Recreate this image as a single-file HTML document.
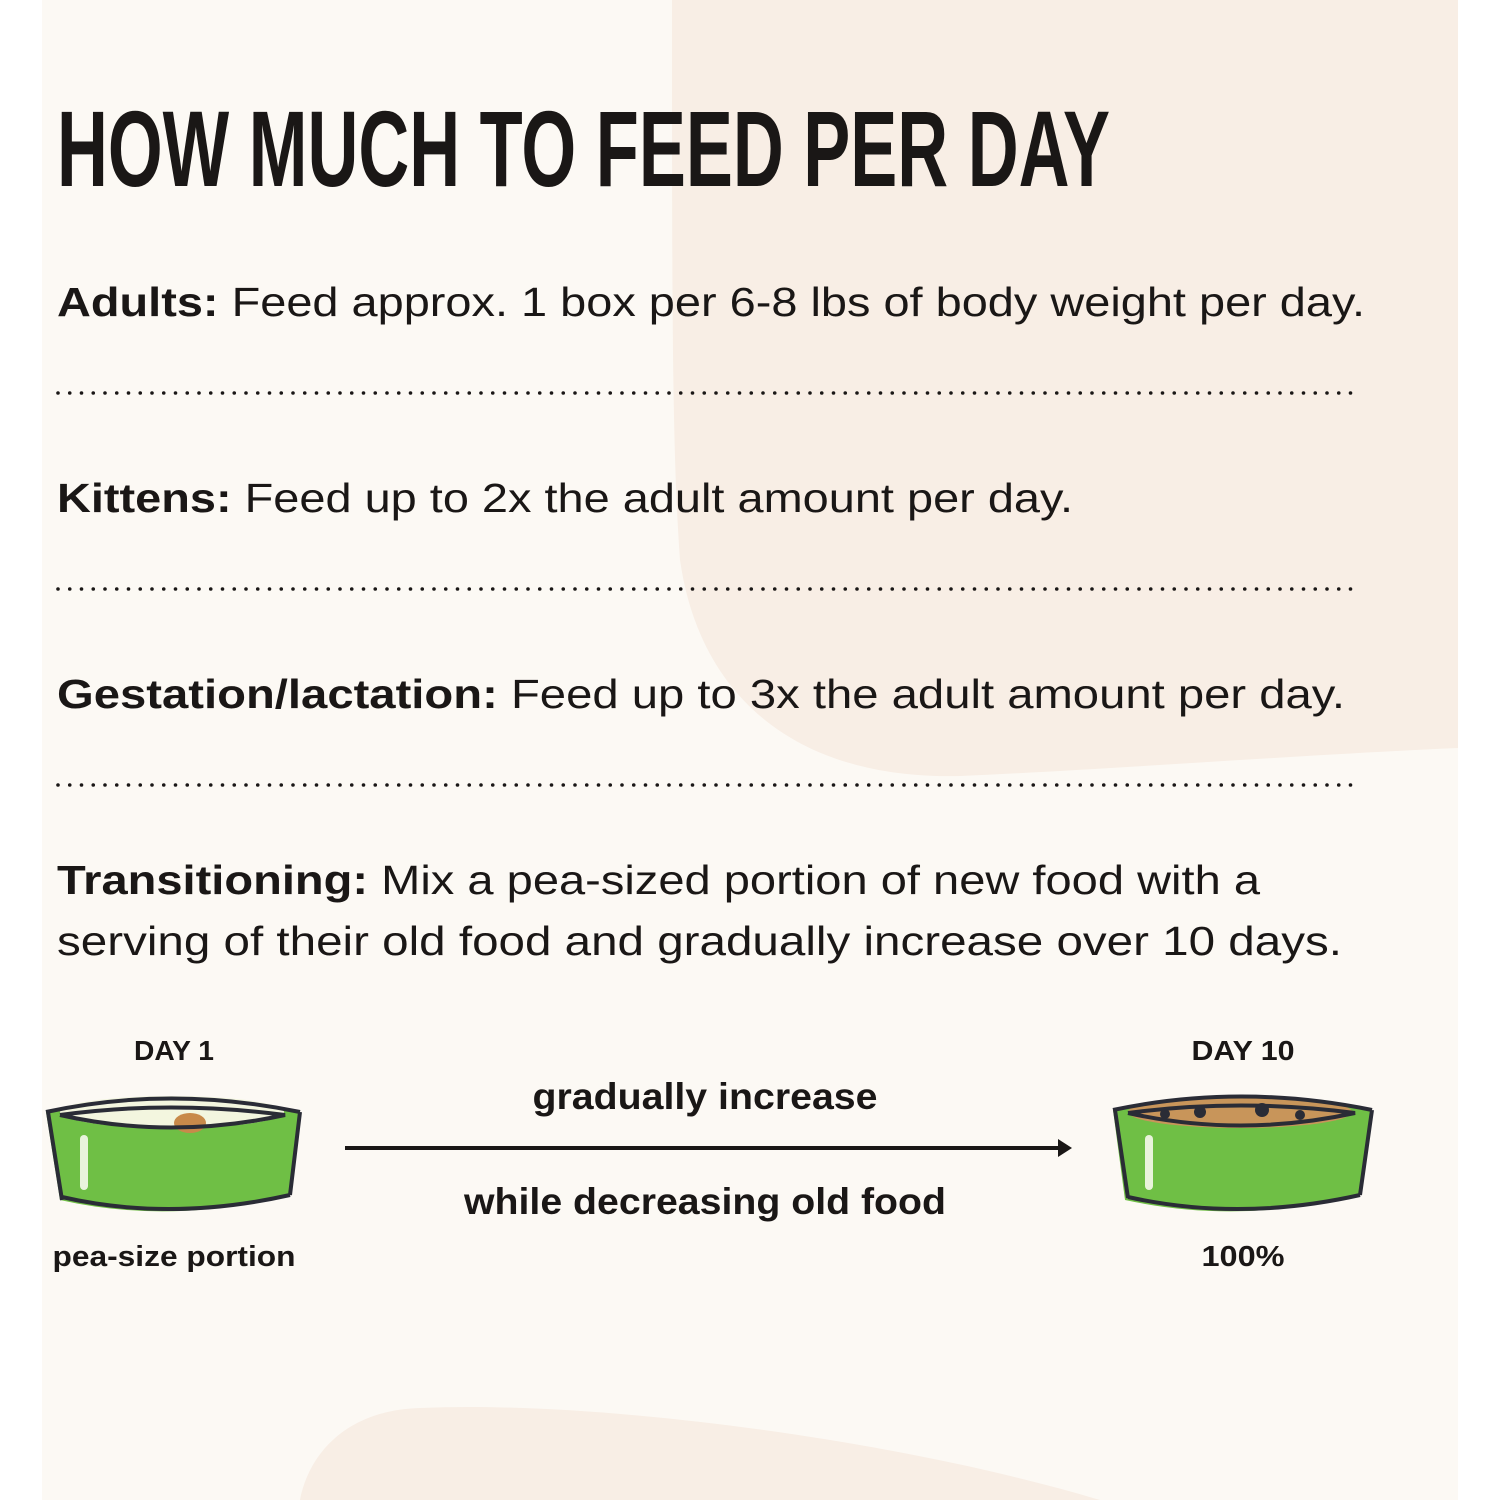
<!DOCTYPE html>
<html><head><style>html,body{margin:0;padding:0;background:#fff;}svg{display:block}</style></head>
<body>
<svg width="1500" height="1500" viewBox="0 0 1500 1500" xmlns="http://www.w3.org/2000/svg" font-family="Liberation Sans, sans-serif" fill="#1a1716">
<rect x="42" y="0" width="1416" height="1500" fill="#fcf9f4"/>
<path d="M672 0 L1458 0 L1458 748 C1300 755 1100 770 960 776 C800 780 700 700 680 560 C672 450 672 300 672 0 Z" fill="#f8eee5"/>
<path d="M300 1500 C310 1450 350 1410 420 1408 C600 1400 900 1440 1100 1500 Z" fill="#f8eee5"/>
<text x="57" y="186" font-size="108" font-weight="bold" textLength="1053" lengthAdjust="spacingAndGlyphs">HOW MUCH TO FEED PER DAY</text>
<g font-size="41">
<text x="57" y="316" textLength="1308" lengthAdjust="spacingAndGlyphs"><tspan font-weight="bold">Adults:</tspan> Feed approx. 1 box per 6-8 lbs of body weight per day.</text>
<text x="57" y="512" textLength="1016" lengthAdjust="spacingAndGlyphs"><tspan font-weight="bold">Kittens:</tspan> Feed up to 2x the adult amount per day.</text>
<text x="57" y="708" textLength="1288" lengthAdjust="spacingAndGlyphs"><tspan font-weight="bold">Gestation/lactation:</tspan> Feed up to 3x the adult amount per day.</text>
<text x="57" y="894" textLength="1203" lengthAdjust="spacingAndGlyphs"><tspan font-weight="bold">Transitioning:</tspan> Mix a pea-sized portion of new food with a</text>
<text x="57" y="955" textLength="1285" lengthAdjust="spacingAndGlyphs">serving of their old food and gradually increase over 10 days.</text>
</g>
<g stroke="#1a1716" stroke-width="3.6" stroke-linecap="round" stroke-dasharray="0 11.75">
<line x1="58" y1="393" x2="1360" y2="393"/>
<line x1="58" y1="589" x2="1360" y2="589"/>
<line x1="58" y1="785" x2="1360" y2="785"/>
</g>
<g font-weight="bold" text-anchor="middle">
<text x="174" y="1060" font-size="28" textLength="80" lengthAdjust="spacingAndGlyphs">DAY 1</text>
<text x="1243" y="1060" font-size="28" textLength="103" lengthAdjust="spacingAndGlyphs">DAY 10</text>
<text x="705" y="1109" font-size="37" textLength="345" lengthAdjust="spacingAndGlyphs">gradually increase</text>
<text x="705" y="1214" font-size="37" textLength="482" lengthAdjust="spacingAndGlyphs">while decreasing old food</text>
<text x="174" y="1266" font-size="29" textLength="243" lengthAdjust="spacingAndGlyphs">pea-size portion</text>
<text x="1243" y="1266" font-size="29" textLength="83" lengthAdjust="spacingAndGlyphs">100%</text>
</g>
<line x1="345" y1="1148" x2="1062" y2="1148" stroke="#1a1716" stroke-width="4"/>
<path d="M1072 1148 L1058 1139 L1058 1157 Z"/>
<g>
<path d="M46 1112 Q170 1085 300 1112 L290 1195 Q170 1225 60 1200 Z" fill="#6fbf45"/>
<ellipse cx="172" cy="1112" rx="112" ry="16" fill="#f3f6df"/>
<ellipse cx="190" cy="1123" rx="16" ry="10" fill="#c88a4a"/>
<path d="M46 1112 Q170 1085 300 1112 M60 1115 Q170 1100 285 1115 Q170 1140 60 1115 M48 1112 L62 1200 M300 1112 L290 1195 M62 1197 Q170 1222 290 1195" fill="none" stroke="#2a2c36" stroke-width="4"/>
<rect x="80" y="1135" width="8" height="55" fill="#e9f3dc" rx="4"/>
</g>
<g>
<path d="M1113 1110 Q1240 1083 1372 1110 L1360 1195 Q1240 1225 1125 1200 Z" fill="#6fbf45"/>
<ellipse cx="1240" cy="1112" rx="112" ry="16" fill="#c8955a"/>
<circle cx="1200" cy="1112" r="6" fill="#2a2c36"/><circle cx="1262" cy="1110" r="7" fill="#2a2c36"/><circle cx="1300" cy="1115" r="5" fill="#2a2c36"/><circle cx="1165" cy="1114" r="5" fill="#2a2c36"/>
<path d="M1113 1110 Q1240 1083 1372 1110 M1128 1113 Q1240 1098 1355 1113 Q1240 1138 1128 1113 M1115 1110 L1128 1198 M1372 1110 L1360 1195 M1128 1197 Q1240 1222 1360 1195" fill="none" stroke="#2a2c36" stroke-width="4"/>
<rect x="1145" y="1135" width="8" height="55" fill="#e9f3dc" rx="4"/>
</g>
</svg>
</body></html>
